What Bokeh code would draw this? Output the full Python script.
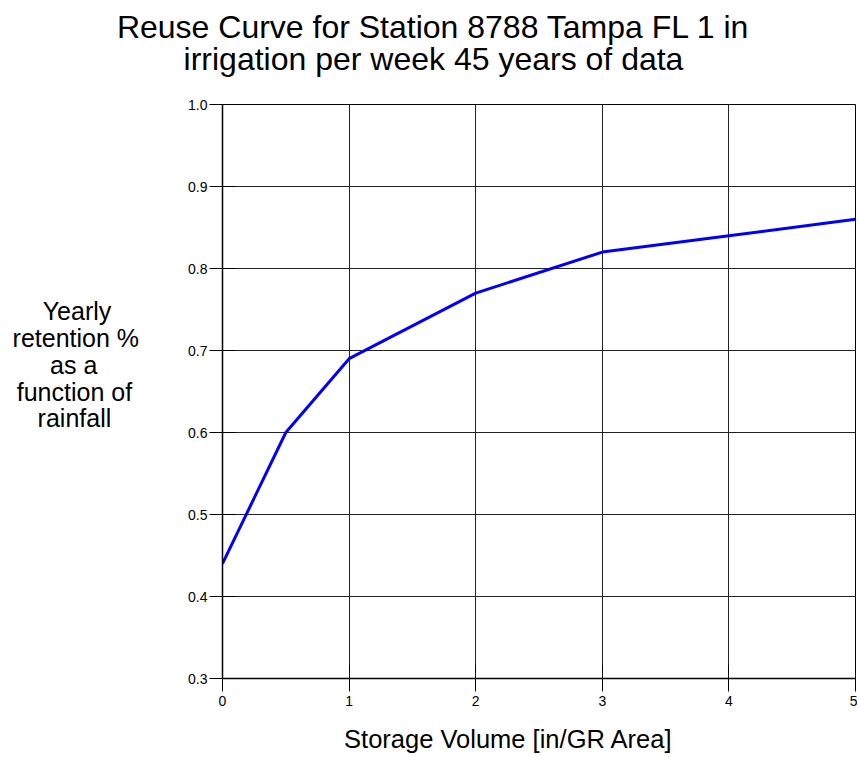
from bokeh.plotting import figure
from bokeh.models import FixedTicker, NumeralTickFormatter, Range1d, LinearAxis
from bokeh.embed import file_html
from bokeh.resources import INLINE

storage = [0, 0.5, 1, 2, 3, 4, 5]
retention = [0.44, 0.60, 0.69, 0.77, 0.82, 0.84, 0.86]
x_ticks = [0, 1, 2, 3, 4, 5]
y_ticks = [0.3, 0.4, 0.5, 0.6, 0.7, 0.8, 0.9, 1.0]
title_lines = ["Reuse Curve for Station 8788 Tampa FL 1 in", "irrigation per week 45 years of data"]
ylabel_lines = ["Yearly", "retention %", "as a", "function of", "rainfall"]
xlabel = "Storage Volume [in/GR Area]"

FONT = "Liberation Sans"
FL, FR, FT, FB = 222, 855, 104, 678   # frame edges in canvas pixels
W, H = 857, 757

p = figure(width=W, height=H, output_backend="svg", toolbar_location=None,
           x_range=Range1d(0, 5), y_range=Range1d(0.3, 1.0),
           min_border_left=FL, min_border_right=W - FR, min_border_top=FT, min_border_bottom=H - FB)
# a pixel-valued range, used only to place free text in the side panels
p.extra_x_ranges = {"px": Range1d(FL, FR)}

p.line(storage, retention, line_color="#0000FF", line_width=3)

for ax, ticks in ((p.xaxis[0], x_ticks), (p.yaxis[0], y_ticks)):
    ax.ticker = FixedTicker(ticks=ticks)
    ax.minor_tick_line_color = None
    ax.major_tick_in = 13
    ax.major_tick_out = 13
    ax.major_tick_line_color = "black"
    ax.axis_line_color = "black"
    ax.axis_line_width = 1.5
    ax.major_label_text_font = FONT
    ax.major_label_text_font_size = "14px"
    ax.major_label_text_color = "black"

p.yaxis[0].formatter = NumeralTickFormatter(format="0.0")
p.yaxis[0].major_label_standoff = 2
p.xaxis[0].major_label_standoff = 4

# Arial / Liberation Sans advance widths (em) for centring the y label lines
CW = {"Y": .667, "e": .556, "a": .556, "r": .333, "l": .222, "y": .5, "t": .278, "n": .556,
      "i": .222, "o": .556, " ": .278, "%": .889, "s": .5, "f": .278, "u": .556, "c": .5}


def em(s):
    return sum(CW.get(c, .556) for c in s)


wmax = max(em(s) for s in ylabel_lines)
centred = [s + "\u00a0" * round((wmax - em(s)) / 2 / CW[" "]) for s in ylabel_lines]

ya = p.yaxis[0]
ya.axis_label = "\n".join(centred) + "\n\n"
ya.axis_label_orientation = "horizontal"
ya.axis_label_text_align = "center"
ya.axis_label_text_font = FONT
ya.axis_label_text_font_style = "normal"
ya.axis_label_text_font_size = "25px"
ya.axis_label_text_line_height = 0.96
ya.axis_label_text_color = "black"
ya.axis_label_standoff = 46


def text_axis(text, cx, size, standoff, side):
    a = LinearAxis(x_range_name="px", ticker=FixedTicker(ticks=[cx]),
                   major_label_overrides={cx: text})
    a.axis_line_color = None
    a.major_tick_line_color = None
    a.minor_tick_line_color = None
    a.major_tick_in = 0
    a.major_tick_out = 0
    a.minor_tick_in = 0
    a.minor_tick_out = 0
    a.major_label_standoff = standoff
    a.major_label_text_font = FONT
    a.major_label_text_font_size = size
    a.major_label_text_color = "black"
    p.add_layout(a, side)


# title: second line nearest the frame, then first line above it
text_axis(title_lines[1], 433, "32px", 28, "above")
text_axis(title_lines[0], 433, "32px", -7, "above")
# x axis label, below the tick labels
text_axis(xlabel, 508, "25.5px", 16, "below")

p.xgrid.ticker = FixedTicker(ticks=x_ticks)
p.ygrid.ticker = FixedTicker(ticks=y_ticks)
for g in (p.xgrid[0], p.ygrid[0]):
    g.grid_line_color = "#222222"
    g.grid_line_width = 1
    g.grid_line_alpha = 1.0

p.outline_line_color = "black"
p.outline_line_width = 1
p.background_fill_color = "white"
p.border_fill_color = "white"

open("out.html", "w").write(file_html(p, INLINE))
